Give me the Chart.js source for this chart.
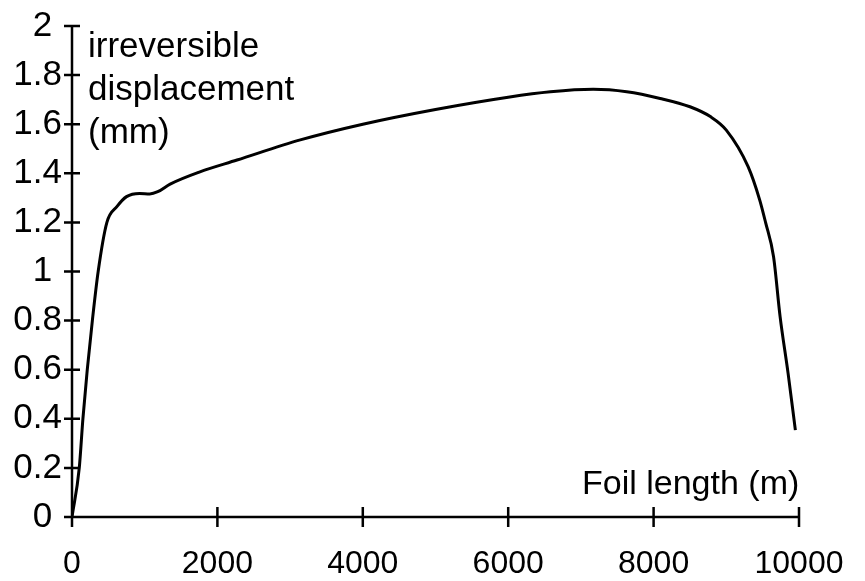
<!DOCTYPE html>
<html>
<head>
<meta charset="utf-8">
<script src="https://cdn.jsdelivr.net/npm/chart.js@4"></script>
<style>
  html, body { margin: 0; padding: 0; background: #fff; }
  canvas { display: block; }
</style>
</head>
<body>
<canvas id="foilChart" width="865" height="581"></canvas>
<script>
// foil length (m) and irreversible displacement (mm)
const foilLength = [0, 100, 150, 210, 280, 360, 480, 620, 750, 930, 1070, 1180, 1350, 1760, 2270, 3140, 4000, 5000, 6000, 6580, 7170, 7630, 8090, 8500, 8780, 9000, 9300, 9460, 9540, 9650, 9740, 9850, 9950];
const displacement = [0, 0.2, 0.4, 0.6, 0.8, 1.0, 1.2, 1.265, 1.305, 1.318, 1.316, 1.325, 1.356, 1.406, 1.454, 1.536, 1.6, 1.66, 1.71, 1.732, 1.742, 1.732, 1.705, 1.671, 1.631, 1.576, 1.427, 1.291, 1.2, 1.06, 0.816, 0.585, 0.354];

const xTicks = [0, 2000, 4000, 6000, 8000, 10000];
const yTicks = [0, 0.2, 0.4, 0.6, 0.8, 1, 1.2, 1.4, 1.6, 1.8, 2];
const yTitle = ["irreversible", "displacement", "(mm)"];
const xTitle = "Foil length (m)";

const FONT = "'Liberation Sans', Arial, sans-serif";

// plain black axes with ticks crossing the line, plus the titles
const axesPlugin = {
  id: "axes",
  afterDraw(chart) {
    const { ctx, scales: { x, y } } = chart;
    const x0 = x.getPixelForValue(0);
    const y0 = y.getPixelForValue(0);
    ctx.save();
    ctx.strokeStyle = "#000";
    ctx.lineWidth = 2.5;
    ctx.beginPath();
    ctx.moveTo(x0, y.getPixelForValue(2));
    ctx.lineTo(x0, y0 + 10);
    ctx.moveTo(x0 - 7, y0);
    ctx.lineTo(x.getPixelForValue(10000), y0);
    yTicks.forEach(v => {
      const p = y.getPixelForValue(v);
      ctx.moveTo(x0 - 8, p);
      ctx.lineTo(x0 + 8, p);
    });
    xTicks.forEach(v => {
      const p = x.getPixelForValue(v);
      ctx.moveTo(p, y0 - 10);
      ctx.lineTo(p, y0 + 10);
    });
    ctx.stroke();

    ctx.fillStyle = "#000";
    ctx.textAlign = "left";
    ctx.textBaseline = "alphabetic";
    ctx.font = "35px " + FONT;
    yTitle.forEach((t, i) => ctx.fillText(t, 88, 57 + i * 43));
    ctx.font = "34px " + FONT;
    ctx.fillText(xTitle, 582, 494);
    ctx.restore();
  }
};

new Chart(document.getElementById("foilChart"), {
  type: "line",
  data: {
    datasets: [{
      data: foilLength.map((f, i) => ({ x: f, y: displacement[i] })),
      borderColor: "#000",
      borderWidth: 3,
      pointRadius: 0,
      cubicInterpolationMode: "monotone",
      fill: false
    }]
  },
  options: {
    responsive: false,
    animation: false,
    layout: { padding: { top: 26, right: 66, left: 0, bottom: 0 } },
    plugins: { legend: { display: false }, tooltip: { enabled: false } },
    scales: {
      x: {
        type: "linear",
        min: 0,
        max: 10000,
        afterBuildTicks: s => { s.ticks = xTicks.map(v => ({ value: v })); },
        afterFit: s => { s.height = 64; },
        grid: { display: false },
        border: { display: false },
        ticks: {
          color: "#000",
          font: { family: FONT, size: 32 },
          padding: 20,
          maxRotation: 0,
          callback: v => String(v)
        }
      },
      y: {
        type: "linear",
        min: 0,
        max: 2,
        afterBuildTicks: s => { s.ticks = yTicks.map(v => ({ value: v })); },
        afterFit: s => { s.width = 72; },
        grid: { display: false },
        border: { display: false },
        ticks: {
          color: "#000",
          font: { family: FONT, size: 35 },
          padding: 2,
          callback: v => Number.isInteger(v) ? v + " " : String(v)
        }
      }
    }
  },
  plugins: [axesPlugin]
});
</script>
</body>
</html>
